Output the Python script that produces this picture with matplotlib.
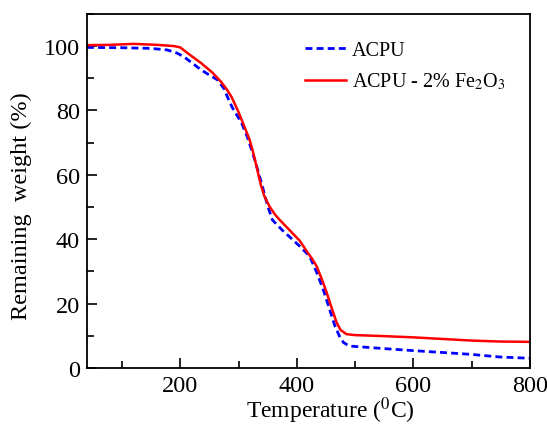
"""
TGA curves of ACPU and ACPU - 2% Fe2O3.
"""

import numpy as np
from matplotlib import pyplot as plt
from matplotlib.ticker import MultipleLocator

temp_acpu = [40, 100, 150, 178, 195, 207, 220, 236, 250, 264, 275, 281,
             289, 305, 315, 324, 333, 341, 350, 358, 375, 392, 405, 422,
             434, 445, 456, 465, 473, 480, 490, 520, 550, 606, 650, 700,
             748, 800]
weight_acpu = [99.6, 99.5, 99.3, 98.8, 97.8, 96.6, 94.8, 92.6, 91.0, 89.5,
               86.8, 84.2, 81.0, 76.2, 71.8, 66.9, 61.5, 56.3, 50.3, 46.0,
               42.8, 40.0, 37.8, 34.7, 29.7, 24.5, 18.3, 13.2, 9.9, 7.9,
               6.8, 6.4, 6.0, 5.3, 4.8, 4.2, 3.4, 3.0]

temp_fe = [40, 80, 120, 160, 190, 200, 215, 236, 255, 270, 280, 288, 300,
           310, 319, 325, 331, 338, 344, 353, 362, 370, 385, 405, 418, 427,
           434, 443, 451, 460, 468, 475, 485, 500, 547, 600, 650, 700, 748,
           800]
weight_fe = [100.3, 100.4, 100.7, 100.4, 100.0, 99.6, 97.5, 94.7, 91.8,
             88.9, 86.5, 84.2, 79.5, 75.0, 70.9, 67.0, 62.5, 57.0, 53.5,
             50.2, 47.8, 46.1, 43.3, 39.5, 36.0, 33.7, 31.6, 27.5, 23.5,
             18.5, 14.2, 11.8, 10.5, 10.2, 9.9, 9.5, 9.0, 8.5, 8.2, 8.1]


def main():
    plt.rcParams["font.family"] = "Liberation Serif"
    plt.rcParams["mathtext.fontset"] = "stix"
    fig = plt.figure(figsize=(5.47, 4.27), dpi=100)
    ax = fig.add_axes([0.159, 0.136, 0.81, 0.829])

    ax.plot(temp_acpu, weight_acpu, "--", color="#0000ff", lw=2.0,
            dashes=(2.5, 1.5), label="ACPU")
    ax.plot(temp_fe, weight_fe, "-", color="#ff0000", lw=1.8,
            label="ACPU - 2% Fe$_2$O$_3$")

    ax.set_xlim(40, 800)
    ax.set_ylim(0, 110)
    ax.xaxis.set_major_locator(MultipleLocator(200))
    ax.xaxis.set_minor_locator(MultipleLocator(100))
    ax.yaxis.set_major_locator(MultipleLocator(20))
    ax.yaxis.set_minor_locator(MultipleLocator(10))
    ax.tick_params(which="both", direction="in", labelsize=17.5, width=1.2)
    ax.tick_params(which="major", length=7, pad=5)
    ax.tick_params(which="minor", length=5)
    for s in ax.spines.values():
        s.set_linewidth(1.3)

    ax.set_xlabel("Temperature ($^0$C)", fontsize=17)
    ax.xaxis.set_label_coords(0.549, -0.075)
    ax.set_ylabel("Remaining  weight (%)", fontsize=17.5)
    ax.yaxis.set_label_coords(-0.125, 0.46)
    ax.legend(loc="upper right", frameon=False, fontsize=14.5,
              bbox_to_anchor=(0.985, 0.975), handlelength=2.0,
              handletextpad=0.3, labelspacing=0.55)

    fig.savefig("out.png")


if __name__ == "__main__":
    main()
